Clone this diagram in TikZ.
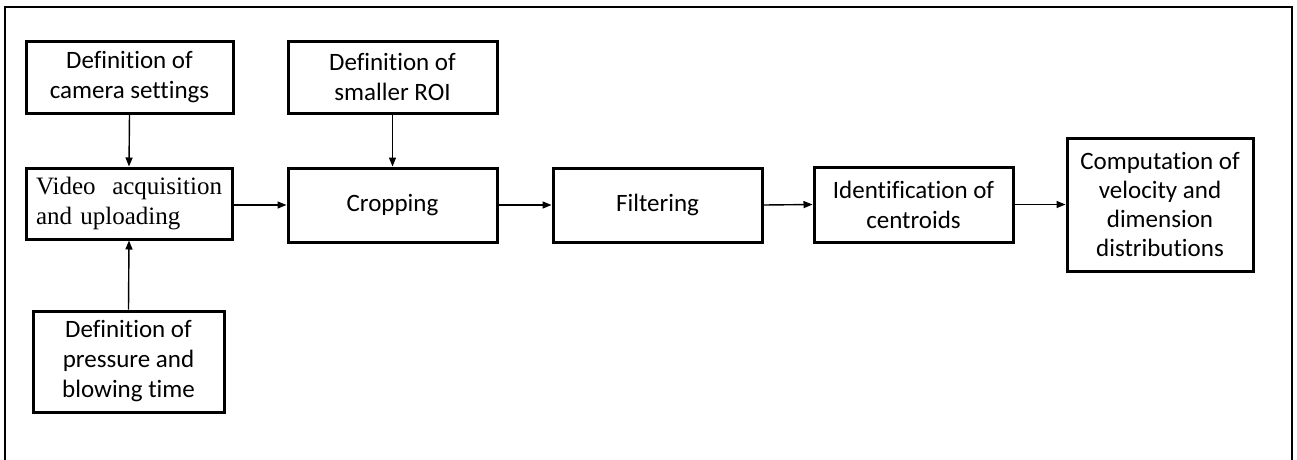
\documentclass[tikz,border=0pt]{standalone}
\usepackage{fontspec}
\setmainfont[Ligatures=NoCommon]{Carlito}
\newfontfamily\timesfont{Liberation Serif}
\usetikzlibrary{arrows.meta}
\begin{document}
\begin{tikzpicture}[x=1pt,y=-1pt,
  box/.style={draw=black,line width=3pt,rectangle,inner sep=0pt,align=center,
    font=\fontsize{25pt}{30pt}\selectfont},
  arr/.style={line width=1.4pt,-{Triangle[length=9pt,width=7pt]}}]
\useasboundingbox (0,0) rectangle (1297,459);
\begin{scope}
\clip (0,0) rectangle (1297,459);
\draw[line width=2.2pt] (5,480) -- (5,7) -- (1292,7) -- (1292,480);
\end{scope}
\node[box,minimum width=207pt,minimum height=72pt] (cam) at (129.5,77) {Definition of\\camera settings};
\node[box,minimum width=206pt,minimum height=71pt,text width=186pt,align=left,
  font=\timesfont\fontsize{25pt}{30pt}\selectfont] (vid) at (129,203.5) {Video\hfill acquisition\\and uploading};
\node[box,minimum width=191pt,minimum height=101pt] (pres) at (128.5,361.5) {Definition of\\pressure and\\blowing time};
\node[box,minimum width=209pt,minimum height=72pt] (roi) at (392.5,77) {Definition of\\smaller ROI};
\node[box,minimum width=209pt,minimum height=74pt] (crop) at (392.5,205) {Cropping};
\node[box,minimum width=209pt,minimum height=74pt] (filt) at (657.5,205) {Filtering};
\node[box,minimum width=199pt,minimum height=75pt] (ident) at (913.5,204.5) {Identification of\\centroids};
\node[box,minimum width=186pt,minimum height=133pt,font=\fontsize{25pt}{29pt}\selectfont] (comp) at (1160,204.5) {Computation of\\velocity and\\dimension\\distributions};
\draw[arr] (cam.south) -- (vid.north);
\draw[arr] (pres.north) -- (vid.south);
\draw[arr] (roi.south) -- (crop.north);
\draw[arr] (vid.east |- crop.west) -- (crop.west);
\draw[arr] (crop.east) -- (filt.west);
\draw[arr] (filt.east) -- (ident.west);
\draw[arr] (ident.east) -- (comp.west);
\end{tikzpicture}
\end{document}
